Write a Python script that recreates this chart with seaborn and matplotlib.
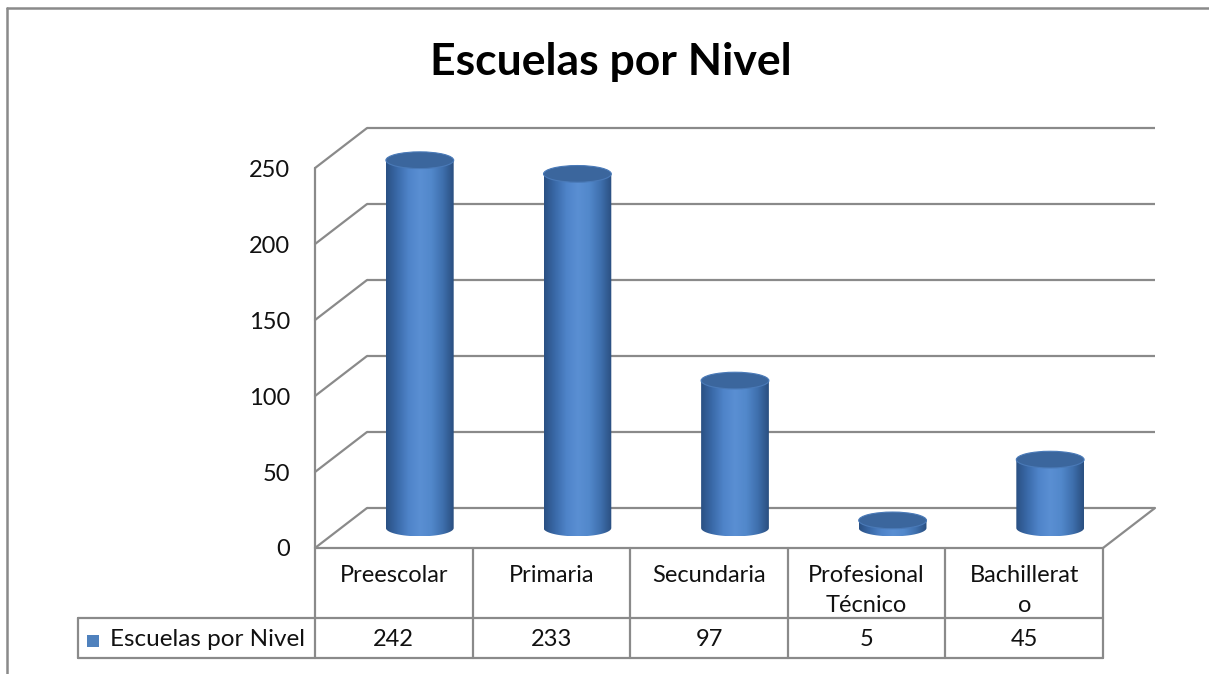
import numpy as np
import matplotlib
matplotlib.use("Agg")
import matplotlib.pyplot as plt
import seaborn as sns
from matplotlib.path import Path
from matplotlib.patches import PathPatch, Ellipse, Rectangle
from matplotlib.lines import Line2D
from matplotlib.transforms import Affine2D, ScaledTranslation, IdentityTransform, blended_transform_factory
from matplotlib.colors import LinearSegmentedColormap

# ---- data ----
categories = ["Preescolar", "Primaria", "Secundaria", "Profesional Técnico", "Bachillerato"]
table_labels = ["Preescolar", "Primaria", "Secundaria", "Profesional\nTécnico", "Bachillerat\no"]
values = [242, 233, 97, 5, 45]
series_name = "Escuelas por Nivel"
title = "Escuelas por Nivel"
yticks = [0, 50, 100, 150, 200, 250]

sns.set_theme(style="white")
plt.rcParams["font.family"] = ["Lato", "DejaVu Sans"]

W, H = 1209, 674
DPI = 100
fig = plt.figure(figsize=(W / DPI, H / DPI), dpi=DPI)
fig.patch.set_facecolor("white")
px = Affine2D().scale(1 / W, -1 / H).translate(0, 1) + fig.transFigure

grid_c = "#8a8a8a"
txt_c = "#111111"

# axes: front plane, x = 315..1103 px, y=0 at 548 px, 1.52 px per unit
ax = fig.add_axes([315 / W, 1 - 548 / H, 788 / W, 438 / H])
sns.barplot(x=categories, y=values, ax=ax, width=0.43, color="#4f81bd")
for p in ax.patches:
    p.set_visible(False)
ax.set_xlim(-0.5, 4.5)
ax.set_ylim(0, 288.2)
ax.set_xticks([])
ax.set_xlabel("")
ax.set_ylabel("")
ax.set_yticks(yticks)
ax.set_yticklabels([str(t) for t in yticks])
ax.tick_params(axis="y", length=0, pad=18, labelsize=17, labelcolor=txt_c)
for s in ax.spines.values():
    s.set_visible(False)
ax.patch.set_alpha(0)

full = ax.transData + ScaledTranslation(0.52, 0.40, fig.dpi_scale_trans)
half = ax.transData + ScaledTranslation(0.26, 0.20, fig.dpi_scale_trans)

fig.canvas.draw()

def disp_line(p0, p1, **kw):
    fig.add_artist(Line2D([p0[0], p1[0]], [p0[1], p1[1]], transform=IdentityTransform(), **kw))

lw = 1.6
for t in yticks:
    ax.plot([-0.5, 4.5], [t, t], transform=full, color=grid_c, lw=lw, clip_on=False, zorder=1,
            solid_capstyle="butt")
    disp_line(ax.transData.transform((-0.5, t)), full.transform((-0.5, t)), color=grid_c, lw=lw, zorder=1)
# left wall front edge
ax.plot([-0.5, -0.5], [0, yticks[-1]], color=grid_c, lw=lw, clip_on=False, zorder=1)
# floor right edge
disp_line(ax.transData.transform((4.5, 0)), full.transform((4.5, 0)), color=grid_c, lw=lw, zorder=1)

# ---- cylinders ----
cyl_cmap = LinearSegmentedColormap.from_list(
    "cyl", ["#2a5083", "#3a6aa9", "#4f84c9", "#5a8fd3", "#5288cb", "#3f70ae", "#2a4f80"])
grad = np.linspace(0, 1, 256).reshape(1, -1)
eh = 11.0
for p, v in zip(ax.patches, values):
    x0 = p.get_x()
    w = p.get_width()
    x1 = x0 + w
    xc = x0 + w / 2
    th = np.linspace(np.pi, 2 * np.pi, 60)
    verts = [(x0, v), (x0, 0)] + [(xc + w / 2 * np.cos(a), eh / 2 * np.sin(a)) for a in th] + [(x1, v), (x0, v)]
    codes = [Path.MOVETO] + [Path.LINETO] * (len(verts) - 2) + [Path.CLOSEPOLY]
    body = PathPatch(Path(verts, codes), transform=half, facecolor="none", edgecolor="none")
    ax.add_patch(body)
    im = ax.imshow(grad, cmap=cyl_cmap, extent=[x0, x1, -eh / 2, v], aspect="auto",
                   transform=half, zorder=3, interpolation="bilinear")
    im.set_clip_path(body)
    top = Ellipse((xc, v), w, eh, transform=half, facecolor="#3b669d", edgecolor="#4a7ab8",
                  lw=0.8, zorder=4)
    ax.add_patch(top)

ax.set_xlim(-0.5, 4.5)
ax.set_ylim(0, 288.2)

# ---- data table ----
bt = blended_transform_factory(ax.transData, px)
for xb in np.arange(-0.5, 5.0, 1.0):
    ax.plot([xb, xb], [548, 658], transform=bt, color=grid_c, lw=lw, clip_on=False, zorder=1)
for yy in [548, 618, 658]:
    x_start = 315 if yy == 548 else 78
    fig.add_artist(Line2D([x_start, 1103], [yy, yy], transform=px, color=grid_c, lw=lw))
fig.add_artist(Line2D([78, 78], [618, 658], transform=px, color=grid_c, lw=lw))

for i, lab in enumerate(table_labels):
    ax.text(i, 565, lab, transform=bt, ha="center", va="top", fontsize=17,
            color=txt_c, linespacing=1.5, clip_on=False)
for i, v in enumerate(values):
    ax.text(i, 640, str(v), transform=bt, ha="center", va="center", fontsize=17,
            color=txt_c, clip_on=False)

# legend key
fig.add_artist(Rectangle((87, 647), 12, -12, transform=px, facecolor="#4f81bd", edgecolor="none"))
fig.text(110 / W, 1 - 640 / H, series_name, ha="left", va="center", fontsize=17.5, color=txt_c)

# title
fig.text(611 / W, 1 - 62 / H, title, ha="center", va="center", fontsize=32,
         fontweight="bold", color="#000000")

# chart border
fig.add_artist(Line2D([7, 1209], [8, 8], transform=px, color=grid_c, lw=1.8))
fig.add_artist(Line2D([7, 7], [8, 674], transform=px, color=grid_c, lw=1.8))

fig.savefig("out.png", dpi=DPI)
